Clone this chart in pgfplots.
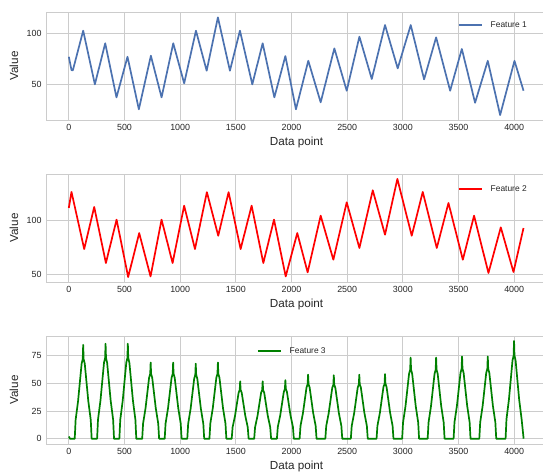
\documentclass[border=0pt]{standalone}
\usepackage{pgfplots}
\pgfplotsset{compat=1.18}
\usepackage{fontspec}
\setmainfont{Liberation Sans}
\definecolor{gridc}{HTML}{CCCCCC}
\definecolor{txt}{HTML}{262626}
\definecolor{f1}{HTML}{4C72B0}
\definecolor{f2}{HTML}{FF0000}
\definecolor{f3}{HTML}{008000}
\pgfplotsset{
  myax/.style={
    scale only axis, width=501pt, height=108pt,
    anchor=north west,
    xmin=-205, xmax=4295,
    xtick={0,500,...,4000},
    grid=major, major grid style={color=gridc, line width=1pt},
    axis line style={color=gridc, line width=1pt},
    major tick length=0pt,
    tick label style={font=\fontsize{8.9}{10}\selectfont, color=txt},
    /pgf/number format/assume math mode=true,
    /pgf/number format/1000 sep={},
    xlabel={Data point}, ylabel={Value},
    label style={font=\fontsize{11.7}{13}\selectfont, color=txt},
    xlabel style={at={(axis description cs:0.5,-0.206)}, anchor=center},
    ylabel style={at={(axis description cs:-0.0639,0.5)}, anchor=center},
    yticklabel style={xshift=-1pt},
    xticklabel style={yshift=-1pt},
    legend style={draw=none, fill=none, inner sep=0pt, outer sep=0pt,
      anchor=west, font=\fontsize{8.4}{10}\selectfont, text=txt,
      nodes={inner sep=0pt},
      /tikz/every odd column/.append style={column sep=8pt}},
    legend image code/.code={\draw[#1] (0pt,0pt) -- (23pt,0pt);},
    every axis plot/.append style={line width=1.7pt, line join=round},
  }
}
\begin{document}
\begin{tikzpicture}
\begin{axis}[myax, at={(46pt,-12pt)}, ymin=14.4, ymax=121.3, ytick={50,100},
  legend style={at={(axis description cs:0.8224,0.8796)}}]
\addplot[color=f1] coordinates {(0,77)(24,63.8)(36,63.5)(129,102.8)(234,49.7)(327,90.3)(428,36.8)(527,77)(629,25)(737,78)(833,36.8)(938,90.3)(1036,50.7)(1142,102.8)(1238,63.2)(1339,116)(1447,63.2)(1537,102.8)(1648,49.7)(1741,90.3)(1846,36.8)(1945,77.7)(2040,25)(2151,73)(2262,31.9)(2385,85.3)(2496,43.4)(2610,96.9)(2721,55)(2840,108.4)(2954,65.5)(3071,108.4)(3191,54.6)(3299,96.2)(3425,43.4)(3530,84.7)(3649,31.5)(3763,73)(3874,19.3)(4003,73)(4084,43.4)};
\addlegendentry{Feature 1}
\end{axis}
\begin{axis}[myax, at={(46pt,-174pt)}, ymin=42.6, ymax=143.2, ytick={50,100},
  legend style={at={(axis description cs:0.8224,0.861)}}]
\addplot[color=f2] coordinates {(0,111.6)(24,126.5)(138,73.3)(228,112.5)(333,60.3)(429,100.7)(533,47.2)(632,88.2)(734,47.8)(833,100.7)(932,60.3)(1036,113.7)(1133,73.3)(1240,126.3)(1342,85.7)(1435,126.3)(1543,73.3)(1642,113.7)(1747,60.3)(1843,100.7)(1948,47.8)(2052,88.2)(2145,51.6)(2262,104.4)(2376,63.4)(2496,116.8)(2610,74.3)(2730,128)(2840,86.7)(2951,138.6)(3080,85.7)(3179,126.5)(3305,74.3)(3410,116.2)(3539,63.4)(3640,104.4)(3769,51)(3880,93.5)(3994,51.9)(4084,92.9)};
\addlegendentry{Feature 2}
\end{axis}
\begin{axis}[myax, at={(46pt,-336pt)}, ymin=-4.8, ymax=93, ytick={0,25,50,75},
  legend style={at={(axis description cs:0.4212,0.861)}}]
\addplot[color=f3] coordinates {(0,2)(10,0)
(53,0)(61,17)(83,34)(99,51)(115,68)(125,72)(129,85)(133,72)(143,68)(159,51)(175,34)(197,17)(205,0)
(254,0)(262,17.2)(284,34.4)(300,51.6)(316,68.8)(326,73.1)(330,86)(334,73.1)(344,68.8)(360,51.6)(376,34.4)(398,17.2)(406,0)
(454,0)(462,17.2)(484,34.4)(500,51.6)(516,68.8)(526,73.1)(530,86)(534,73.1)(544,68.8)(560,51.6)(576,34.4)(598,17.2)(606,0)
(659,0)(667,13.8)(689,27.6)(705,41.4)(721,55.2)(731,58.7)(735,69)(739,58.7)(749,55.2)(765,41.4)(781,27.6)(803,13.8)(811,0)
(861,0)(869,13.8)(891,27.6)(907,41.4)(923,55.2)(933,58.7)(937,69)(941,58.7)(951,55.2)(967,41.4)(983,27.6)(1005,13.8)(1013,0)
(1064,0)(1072,13.6)(1094,27.2)(1110,40.8)(1126,54.4)(1136,57.8)(1140,68)(1144,57.8)(1154,54.4)(1170,40.8)(1186,27.2)(1208,13.6)(1216,0)
(1263,0)(1271,13.8)(1293,27.6)(1309,41.4)(1325,55.2)(1335,58.7)(1339,69)(1343,58.7)(1353,55.2)(1369,41.4)(1385,27.6)(1407,13.8)(1415,0)
(1463,0)(1471,10.4)(1493,20.8)(1509,31.2)(1525,41.6)(1535,44.2)(1539,52)(1543,44.2)(1553,41.6)(1569,31.2)(1585,20.8)(1607,10.4)(1615,0)
(1665,0)(1673,10.4)(1695,20.8)(1711,31.2)(1727,41.6)(1737,44.2)(1741,52)(1745,44.2)(1755,41.6)(1771,31.2)(1787,20.8)(1809,10.4)(1817,0)
(1869,0)(1877,10.6)(1899,21.2)(1915,31.8)(1931,42.4)(1941,45.1)(1945,53)(1949,45.1)(1959,42.4)(1975,31.8)(1991,21.2)(2013,10.6)(2021,0)
(2073,0)(2081,11.6)(2103,23.2)(2119,34.8)(2135,46.4)(2145,49.3)(2149,58)(2153,49.3)(2163,46.4)(2179,34.8)(2195,23.2)(2217,11.6)(2225,0)
(2304,0)(2312,11.5)(2334,23)(2350,34.5)(2366,46)(2376,48.9)(2380,57.5)(2384,48.9)(2394,46)(2410,34.5)(2426,23)(2448,11.5)(2456,0)
(2533,0)(2541,11.6)(2563,23.2)(2579,34.8)(2595,46.4)(2605,49.3)(2609,58)(2613,49.3)(2623,46.4)(2639,34.8)(2655,23.2)(2677,11.6)(2685,0)
(2764,0)(2772,11.7)(2794,23.4)(2810,35.1)(2826,46.8)(2836,49.7)(2840,58.5)(2844,49.7)(2854,46.8)(2870,35.1)(2886,23.4)(2908,11.7)(2916,0)
(2994,0)(3002,14.7)(3024,29.4)(3040,44.1)(3056,58.8)(3066,62.5)(3070,73.5)(3074,62.5)(3084,58.8)(3100,44.1)(3116,29.4)(3138,14.7)(3146,0)
(3223,0)(3231,14.7)(3253,29.4)(3269,44.1)(3285,58.8)(3295,62.5)(3299,73.5)(3303,62.5)(3313,58.8)(3329,44.1)(3345,29.4)(3367,14.7)(3375,0)
(3456,0)(3464,14.9)(3486,29.8)(3502,44.7)(3518,59.6)(3528,63.3)(3532,74.5)(3536,63.3)(3546,59.6)(3562,44.7)(3578,29.8)(3600,14.9)(3608,0)
(3687,0)(3695,14.9)(3717,29.8)(3733,44.7)(3749,59.6)(3759,63.3)(3763,74.5)(3767,63.3)(3777,59.6)(3793,44.7)(3809,29.8)(3831,14.9)(3839,0)
(3923,0)(3931,17.7)(3953,35.4)(3969,53.1)(3985,70.8)(3995,75.2)(3999,88.5)(4003,75.2)(4013,70.8)(4029,53.1)(4045,35.4)(4067,17.7)(4085,0)};
\addlegendentry{Feature 3}
\end{axis}
\pgfresetboundingbox
\useasboundingbox (0pt,0pt) rectangle (543pt,-472pt);
\end{tikzpicture}
\end{document}
